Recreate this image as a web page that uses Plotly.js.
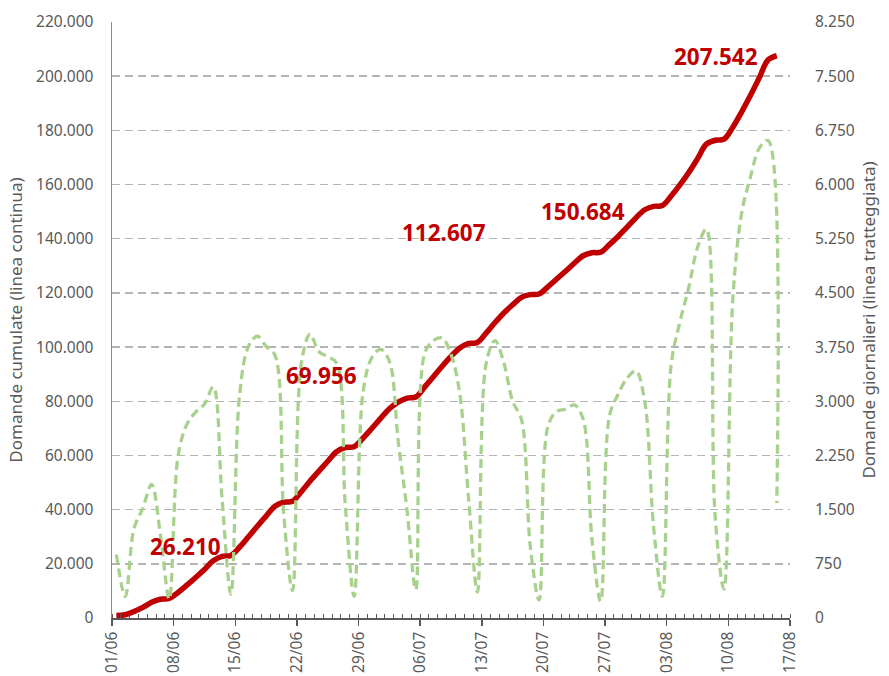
<!DOCTYPE html>
<html>
<head>
<meta charset="utf-8">
<script src="https://cdn.plot.ly/plotly-3.0.1.min.js"></script>
<style>
  html, body { margin: 0; padding: 0; background: #ffffff; }
  #chart { width: 889px; height: 676px; }
</style>
</head>
<body>
<div id="chart"></div>
<script>
// Days (June 1 – August 15, 2020)
const dates = [
  '2020-06-01','2020-06-02','2020-06-03','2020-06-04','2020-06-05','2020-06-06','2020-06-07',
  '2020-06-08','2020-06-09','2020-06-10','2020-06-11','2020-06-12','2020-06-13','2020-06-14',
  '2020-06-15','2020-06-16','2020-06-17','2020-06-18','2020-06-19','2020-06-20','2020-06-21',
  '2020-06-22','2020-06-23','2020-06-24','2020-06-25','2020-06-26','2020-06-27','2020-06-28',
  '2020-06-29','2020-06-30','2020-07-01','2020-07-02','2020-07-03','2020-07-04','2020-07-05',
  '2020-07-06','2020-07-07','2020-07-08','2020-07-09','2020-07-10','2020-07-11','2020-07-12',
  '2020-07-13','2020-07-14','2020-07-15','2020-07-16','2020-07-17','2020-07-18','2020-07-19',
  '2020-07-20','2020-07-21','2020-07-22','2020-07-23','2020-07-24','2020-07-25','2020-07-26',
  '2020-07-27','2020-07-28','2020-07-29','2020-07-30','2020-07-31','2020-08-01','2020-08-02',
  '2020-08-03','2020-08-04','2020-08-05','2020-08-06','2020-08-07','2020-08-08','2020-08-09',
  '2020-08-10','2020-08-11','2020-08-12','2020-08-13','2020-08-14','2020-08-15'
];

// Daily requests (dashed green line, right axis)
const daily = [
  880, 300, 1240, 1520, 1850, 1150, 260,
  2240, 2680, 2850, 2960, 3200, 1650, 330,
  3100, 3760, 3900, 3760, 3640, 1450, 380,
  3525, 3930, 3686, 3617, 3530, 1550, 300,
  3117, 3601, 3717, 3556, 2450, 1500, 390,
  3660, 3840, 3875, 3650, 3100, 1650, 360,
  3530, 3840, 3533, 3000, 2750, 1000, 250,
  2650, 2860, 2890, 2950, 2757, 1100, 230,
  2800, 3100, 3320, 3420, 3000, 1270, 300,
  3500, 4100, 4573, 5130, 5385, 1400, 400,
  4400, 5600, 6100, 6500, 6610, 1590
];

// Cumulative requests (solid red line, left axis)
const cumulative = [
  880, 1180, 2420, 3940, 5790, 6940, 7200,
  9440, 12120, 14970, 17930, 21130, 22780, 23110,
  26210, 29970, 33870, 37630, 41270, 42720, 43100,
  46625, 50555, 54241, 57858, 61388, 62938, 63238,
  66355, 69956, 73673, 77229, 79679, 81179, 81569,
  85229, 89069, 92944, 96594, 99694, 101344, 101704,
  105234, 109074, 112607, 115607, 118357, 119357, 119607,
  122257, 125117, 128007, 130957, 133714, 134814, 135044,
  137844, 140944, 144264, 147684, 150684, 151954, 152254,
  155754, 159854, 164427, 169557, 174942, 176342, 176742,
  181142, 186742, 192842, 199342, 205952, 207542
];

// Labelled points
const labelDates = ['2020-06-15', '2020-06-30', '2020-07-15', '2020-07-31', '2020-08-15'];
const labelValues = [26210, 69956, 112607, 150684, 207542];

// Tick labels
const leftTicks = [0, 20000, 40000, 60000, 80000, 100000, 120000, 140000, 160000, 180000, 200000, 220000];
const rightTicks = [0, 750, 1500, 2250, 3000, 3750, 4500, 5250, 6000, 6750, 7500, 8250];

function fmt(n) {
  return String(n).replace(/\B(?=(\d{3})+(?!\d))/g, '.');
}

const xs = dates.map(d => d + ' 12:00');

const traceCum = {
  x: xs, y: cumulative, type: 'scatter', mode: 'lines',
  line: { color: '#C00000', width: 5.5, shape: 'spline', smoothing: 1 },
  yaxis: 'y', hoverinfo: 'skip', showlegend: false
};
const traceDaily = {
  x: xs, y: daily, type: 'scatter', mode: 'lines',
  line: { color: '#A9D18E', width: 3.3, shape: 'spline', smoothing: 1, dash: '9px,5px' },
  yaxis: 'y2', hoverinfo: 'skip', showlegend: false
};

const labelShift = [[-17, 0], [-13, 53], [-16, 80], [-18, -2], [-17, -1]];
const annotations = labelDates.map((d, i) => ({
  x: d + ' 12:00', y: labelValues[i], xref: 'x', yref: 'y',
  text: fmt(labelValues[i]), showarrow: false,
  xanchor: 'right', yanchor: 'middle',
  xshift: labelShift[i][0], yshift: labelShift[i][1],
  font: { family: 'Noto Sans, sans-serif', size: 22.5, color: '#C00000', weight: 'bold' }
}));

const tickFont = { family: 'Noto Sans, sans-serif', size: 15.5, color: '#595959' };
const titleFont = { family: 'Noto Sans, sans-serif', size: 17, color: '#595959' };

const layout = {
  width: 889, height: 676,
  margin: { l: 112, r: 99, t: 22, b: 58 },
  paper_bgcolor: '#ffffff', plot_bgcolor: '#ffffff',
  showlegend: false,
  xaxis: {
    type: 'date',
    range: ['2020-06-01', '2020-08-17'],
    tick0: '2020-06-01', dtick: 7 * 86400000,
    tickformat: '%d/%m', tickangle: -90,
    tickfont: tickFont,
    ticks: 'outside', ticklen: 6, tickwidth: 1.5, tickcolor: '#595959',
    minor: { dtick: 86400000, tick0: '2020-06-01', ticks: 'inside', ticklen: 4, tickwidth: 1, tickcolor: '#595959', showgrid: false },
    showline: true, linecolor: '#595959', linewidth: 1.5,
    showgrid: false, zeroline: false, fixedrange: true
  },
  yaxis: {
    range: [0, 220000],
    tickvals: leftTicks, ticktext: leftTicks.map(fmt),
    tickfont: tickFont,
    ticks: '', ticklabelstandoff: 14,
    showline: true, linecolor: '#8c8c8c', linewidth: 1.5,
    showgrid: true, gridcolor: '#b4b4b4', gridwidth: 1.5, griddash: '8px,5px',
    zeroline: false,
    title: { text: 'Domande cumulate (linea continua)', font: titleFont, standoff: 9 }
  },
  yaxis2: {
    range: [0, 8250], overlaying: 'y', side: 'right',
    tickvals: rightTicks, ticktext: rightTicks.map(fmt),
    tickfont: tickFont,
    ticks: '', ticklabelstandoff: 24,
    showline: false, showgrid: false, zeroline: false,
    title: { text: 'Domande giornalieri (linea tratteggiata)', font: titleFont, standoff: 9 }
  },
  annotations: annotations
};

Plotly.newPlot('chart', [traceCum, traceDaily], layout, { displayModeBar: false, staticPlot: true });
</script>
</body>
</html>
